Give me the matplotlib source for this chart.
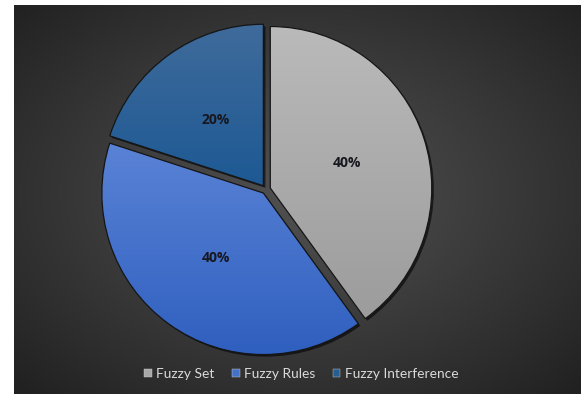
import numpy as np
import matplotlib
matplotlib.use("Agg")
import matplotlib.pyplot as plt
from matplotlib.colors import to_rgb
from matplotlib.patches import Patch, PathPatch
from matplotlib import patheffects as pe

categories = ["Fuzzy Set", "Fuzzy Rules", "Fuzzy Interference"]
shares = [40, 40, 20]
top_colors = ["#bababa", "#5a83d6", "#3f6b9b"]
bottom_colors = ["#9c9c9c", "#2f5fbf", "#1d5994"]
legend_colors = ["#a8a8a8", "#4472c4", "#255e91"]

W, H = 581, 394
plt.rcParams["font.family"] = ["Lato", "DejaVu Sans"]

fig = plt.figure(figsize=(W / 100, H / 100), dpi=100, facecolor="white")
ax = fig.add_axes([0, 0, 1, 1])
ax.axis("off")

# dark panel with a soft radial glow
x0, x1, y0, y1 = 14, W, 0, H - 5
gx, gy = np.meshgrid(np.linspace(x0, x1, 400), np.linspace(y0, y1, 300))
cx, cy = 300, 200
dist = np.hypot((gx - cx) / ((x1 - x0) / 2), (gy - cy) / ((y1 - y0) / 2)) / np.sqrt(2)
t = np.clip(dist, 0, 1) ** 1.1
c0 = np.array(to_rgb("#505050"))
c1 = np.array(to_rgb("#212121"))
panel = c0 * (1 - t[..., None]) + c1 * t[..., None]
ax.imshow(panel, extent=(x0, x1, y0, y1), origin="lower", zorder=0, aspect="auto")

R = 161.5
center = (266, 204.6)
wedges, texts, autotexts = ax.pie(
    shares, radius=R, center=center, startangle=90, counterclock=False,
    explode=[4.5] * len(shares), autopct="%.0f%%", pctdistance=0.5,
    frame=True,
    wedgeprops=dict(linewidth=0, zorder=2),
    textprops=dict(color="#17171f", fontsize=10, fontweight="bold",
                   family=["Open Sans", "DejaVu Sans"]),
)

for w, ct, cb in zip(wedges, top_colors, bottom_colors):
    w.set_facecolor(cb)
    w.set_path_effects([pe.SimplePatchShadow(offset=(1.5, -1.5), shadow_rgbFace="black", alpha=0.6),
                        pe.Normal()])
    verts = w.get_path().vertices
    ymin, ymax = verts[:, 1].min(), verts[:, 1].max()
    xmin, xmax = verts[:, 0].min(), verts[:, 0].max()
    s = np.linspace(0, 1, 200)[:, None, None]
    grad = np.array(to_rgb(cb)) * (1 - s) + np.array(to_rgb(ct)) * s
    grad = np.repeat(grad, 2, axis=1)
    im = ax.imshow(grad, extent=(xmin, xmax, ymin, ymax), origin="lower",
                   zorder=3, aspect="auto")
    im.set_clip_path(w)
    ax.add_patch(PathPatch(w.get_path(), facecolor="none", edgecolor="#151515",
                           linewidth=0.9, zorder=4))

for txt in autotexts:
    txt.set_zorder(5)

handles = [Patch(facecolor=c, edgecolor="#d0d0d0", linewidth=0.3) for c in legend_colors]
leg = ax.legend(handles, categories, loc="center", bbox_to_anchor=(301.5 / W, 20 / H),
                ncol=3, frameon=False, fontsize=9.9, handlelength=0.55, handleheight=0.55,
                handletextpad=0.35, columnspacing=1.25, labelcolor="#d9d9d9")

ax.set_xlim(0, W)
ax.set_ylim(0, H)
ax.set_aspect("auto")

fig.savefig("out.png", dpi=100, facecolor="white")
